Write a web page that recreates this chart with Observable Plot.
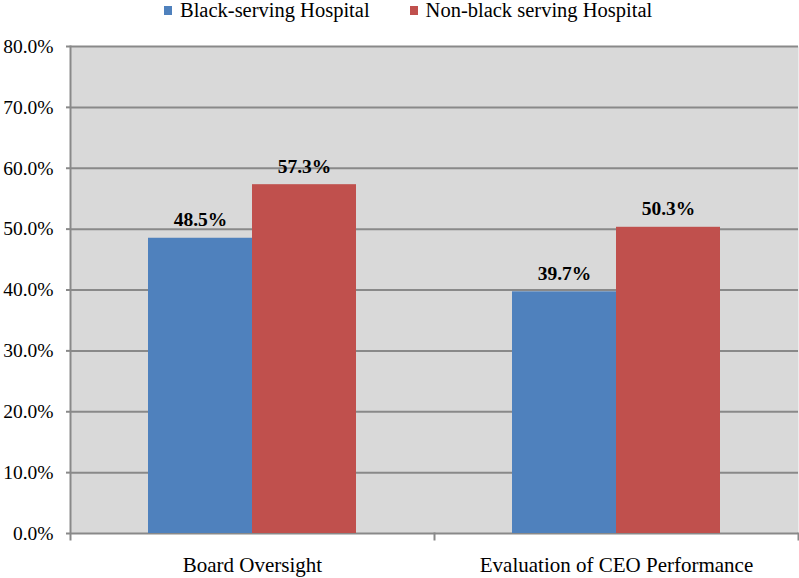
<!DOCTYPE html>
<html>
<head>
<meta charset="utf-8">
<script src="https://cdn.jsdelivr.net/npm/d3@7"></script>
<script src="https://cdn.jsdelivr.net/npm/@observablehq/plot@0.6"></script>
<style>
  body { margin: 0; background: #fff; font-family: "Liberation Serif", "Times New Roman", serif; }
  #wrap { position: relative; width: 799px; height: 578px; }
  #legend { position: absolute; left: 164px; top: -2px; display: flex; font-size: 20.5px; color: #000; line-height: 24px; z-index: 2; }
  .item { display: flex; align-items: center; margin-right: 40px; }
  .sw { width: 8px; height: 9px; margin-right: 8px; }
  #chart svg { font-family: "Liberation Serif", "Times New Roman", serif !important; }
</style>
</head>
<body>
<div id="wrap">
  <div id="legend"></div>
  <div id="chart"></div>
</div>
<script>
const categories = ["Board Oversight", "Evaluation of CEO Performance"];
const series = ["Black-serving Hospital", "Non-black serving Hospital"];
const blackServing = [0.485, 0.397];
const nonBlackServing = [0.573, 0.503];
const yTicks = [0, 0.1, 0.2, 0.3, 0.4, 0.5, 0.6, 0.7, 0.8];
const colors = ["#4f81bd", "#c0504d"];

const data = [];
categories.forEach((c, i) => {
  data.push({category: c, series: series[0], value: blackServing[i]});
  data.push({category: c, series: series[1], value: nonBlackServing[i]});
});

const fmt = d3.format(".1%");
const gray = "#898989";
const serif = "Liberation Serif, Times New Roman, serif";
const H = 578, mTop = 46, mBottom = 45;

const legend = document.getElementById("legend");
series.forEach((s, i) => {
  const it = document.createElement("div");
  it.className = "item";
  const sw = document.createElement("div");
  sw.className = "sw";
  sw.style.background = colors[i];
  const t = document.createElement("span");
  t.textContent = s;
  it.appendChild(sw); it.appendChild(t);
  legend.appendChild(it);
});

const chart = Plot.plot({
  width: 799,
  height: H,
  marginTop: mTop,
  marginBottom: mBottom,
  marginLeft: 70,
  marginRight: 1,
  style: "font-family: 'Liberation Serif', 'Times New Roman', serif; font-size: 19px; color: #000; background: transparent;",
  fx: {domain: categories, padding: 0, label: null},
  x: {domain: series, paddingInner: 0, paddingOuter: 0.74, axis: null},
  y: {domain: [0, 0.8], label: null},
  color: {domain: series, range: colors},
  marks: [
    Plot.frame({fill: "#d9d9d9", stroke: "none", facet: "super"}),
    Plot.ruleY(yTicks, {stroke: gray, strokeWidth: 2}),
    Plot.frame({anchor: "left", stroke: gray, strokeWidth: 2, insetBottom: -6, facet: "super"}),
    Plot.frame({anchor: "left", stroke: gray, strokeWidth: 2, insetTop: H - mTop - mBottom, insetBottom: -6, fx: () => categories[1]}),
    Plot.frame({anchor: "right", stroke: gray, strokeWidth: 2, insetTop: H - mTop - mBottom, insetBottom: -6, fx: () => categories[1]}),
    Plot.axisY({ticks: yTicks, tickFormat: fmt, tickSize: 4, tickPadding: 13, stroke: gray, strokeWidth: 2, fontSize: 19.5, fontFamily: serif, fill: "#000", label: null}),
    Plot.axisFx({anchor: "bottom", tickSize: 0, tickPadding: 24, fontSize: 21, fontFamily: serif, fill: "#000", label: null}),
    Plot.barY(data, {fx: "category", x: "series", y: "value", fill: "series"}),
    Plot.text(data, {fx: "category", x: "series", y: "value", text: d => fmt(d.value), dy: -12, lineAnchor: "bottom", fontWeight: "bold", fontSize: 19.5, fontFamily: serif, fill: "#000"})
  ]
});
document.getElementById("chart").appendChild(chart);
</script>
</body>
</html>
